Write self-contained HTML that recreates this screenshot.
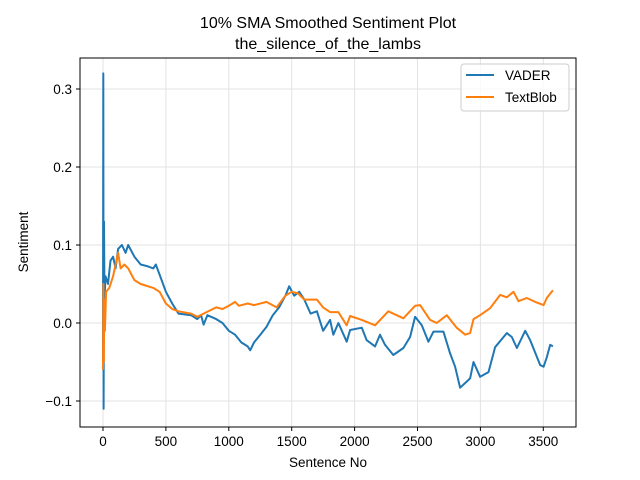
<!DOCTYPE html>
<html><head><meta charset="utf-8"><style>
body{margin:0;background:#fff;}
svg{display:block;font-family:"Liberation Sans","DejaVu Sans",sans-serif;}
</style></head><body>
<svg id="chart" width="640" height="480" viewBox="0 0 640 480">
<rect x="0" y="0" width="640" height="480" fill="#fff"/>
<text x="328" y="28" text-anchor="middle" font-size="16">10% SMA Smoothed Sentiment Plot</text>
<text x="328" y="49" text-anchor="middle" font-size="16">the_silence_of_the_lambs</text>
<g id="grid"></g>
<g id="series"></g>
<rect x="80" y="58" width="496" height="369" fill="none" stroke="#000" stroke-width="1"/>
<g id="axes"></g>
<text x="328" y="467" text-anchor="middle" font-size="13.5">Sentence No</text>
<text x="28" y="242" text-anchor="middle" font-size="13.5" transform="rotate(-90 28 242)">Sentiment</text>
<g>
<rect x="461" y="64" width="108" height="47" rx="3" fill="#fff" fill-opacity="0.8" stroke="#ccc"/>
<line x1="466" y1="75" x2="494" y2="75" stroke="#1f77b4" stroke-width="2"/>
<text x="505" y="80" font-size="13.5">VADER</text>
<line x1="466" y1="97" x2="494" y2="97" stroke="#ff7f0e" stroke-width="2"/>
<text x="505" y="102" font-size="13.5">TextBlob</text>
</g>
</svg>
<script>
const xTicks=[0,500,1000,1500,2000,2500,3000,3500];
const yTicks=[-0.1,0.0,0.1,0.2,0.3];
const yTickLabels=["−0.1","0.0","0.1","0.2","0.3"];
const vaderX=[0,2,5,8,12,20,40,60,80,100,120,150,180,200,250,300,350,400,420,450,500,550,600,700,750,780,800,830,900,950,1000,1050,1100,1150,1170,1200,1250,1300,1350,1400,1450,1480,1520,1560,1600,1650,1700,1750,1805,1831,1871,1937,1964,2057,2096,2163,2202,2242,2308,2388,2441,2481,2534,2587,2627,2706,2759,2799,2839,2892,2918,2945,2998,3064,3117,3210,3250,3290,3356,3396,3475,3502,3528,3555,3576];
const vaderY=[-0.05,0.32,-0.11,0.13,0.03,0.06,0.05,0.08,0.085,0.07,0.095,0.1,0.09,0.1,0.085,0.075,0.073,0.07,0.075,0.062,0.04,0.025,0.012,0.01,0.005,0.01,-0.002,0.01,0.005,0.0,-0.01,-0.015,-0.025,-0.03,-0.035,-0.025,-0.015,-0.005,0.01,0.02,0.035,0.047,0.035,0.04,0.03,0.012,0.015,-0.01,0.004,-0.015,0.0,-0.024,-0.009,-0.006,-0.022,-0.03,-0.015,-0.028,-0.041,-0.032,-0.018,0.008,-0.003,-0.024,-0.011,-0.011,-0.039,-0.056,-0.083,-0.075,-0.071,-0.05,-0.069,-0.063,-0.031,-0.013,-0.018,-0.032,-0.01,-0.022,-0.054,-0.056,-0.044,-0.028,-0.03];
const blobX=[0,3,6,10,15,25,50,80,100,120,140,170,200,250,300,400,450,500,550,600,700,750,800,850,900,950,1000,1050,1080,1150,1200,1300,1380,1450,1500,1550,1600,1700,1750,1805,1871,1937,1964,2057,2163,2268,2388,2481,2521,2600,2653,2733,2812,2879,2918,2945,2998,3077,3157,3210,3263,3303,3369,3436,3502,3528,3576];
const blobY=[-0.06,0.05,-0.05,0.03,-0.01,0.04,0.045,0.06,0.075,0.09,0.07,0.075,0.07,0.055,0.05,0.045,0.04,0.025,0.018,0.015,0.012,0.008,0.012,0.016,0.02,0.018,0.022,0.027,0.022,0.025,0.023,0.027,0.02,0.035,0.04,0.038,0.03,0.03,0.02,0.014,0.014,-0.003,0.009,0.004,-0.003,0.015,0.006,0.022,0.023,0.004,0.0,0.01,-0.006,-0.015,-0.013,0.005,0.01,0.019,0.036,0.033,0.04,0.028,0.032,0.027,0.023,0.032,0.042];
const NS="http://www.w3.org/2000/svg";
function sx(v){return 103+v*0.1258;}
function sy(v){return 323-v*780;}
function mk(tag,attrs,parent){const e=document.createElementNS(NS,tag);for(const k in attrs)e.setAttribute(k,attrs[k]);parent.appendChild(e);return e;}
const grid=document.getElementById('grid'),axes=document.getElementById('axes'),series=document.getElementById('series');
xTicks.forEach(t=>{
  const g=mk('line',{x1:sx(t),x2:sx(t),y1:58,y2:427,stroke:'#e3e3e3','stroke-width':1},grid);
  
  
  const tk=mk('line',{x1:sx(t),x2:sx(t),y1:427,y2:431,stroke:'#000'},axes);
  
  
  const tx=mk('text',{x:sx(t),y:446,'text-anchor':'middle','font-size':13.5},axes);
  tx.textContent=String(t);
  
  
});
yTicks.forEach((t,i)=>{
  const g=mk('line',{x1:80,x2:576,y1:sy(t),y2:sy(t),stroke:'#e3e3e3','stroke-width':1},grid);
  
  
  const tk=mk('line',{x1:76,x2:80,y1:sy(t),y2:sy(t),stroke:'#000'},axes);
  
  
  const tx=mk('text',{x:72,y:sy(t)+5,'text-anchor':'end','font-size':13.5},axes);
  tx.textContent=yTickLabels[i];
  
  
});
function line(xs,ys,color,name){
  const d=xs.map((x,i)=>(i?'L':'M')+sx(x).toFixed(1)+','+sy(ys[i]).toFixed(1)).join('');
  const p=mk('path',{d:d,fill:'none',stroke:color,'stroke-width':2,'stroke-linejoin':'round'},series);
  
  
}
line(vaderX,vaderY,'#1f77b4','vader-line');
line(blobX,blobY,'#ff7f0e','textblob-line');
</script>
</body></html>
